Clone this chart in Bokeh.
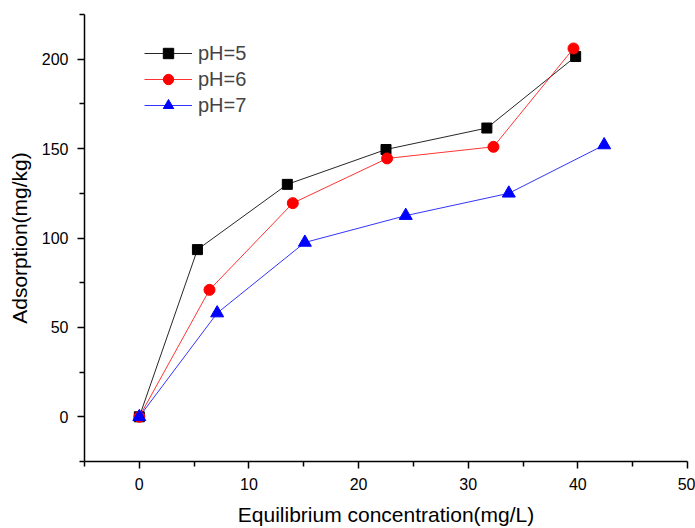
from bokeh.plotting import figure
from bokeh.models import FixedTicker, Range1d, Legend, LegendItem
from bokeh.embed import file_html
from bokeh.resources import INLINE

x_ph5 = [0, 5.3, 13.5, 22.5, 31.7, 39.8]
y_ph5 = [0, 93.5, 130, 149.5, 161.5, 201.5]
x_ph6 = [0, 6.4, 14.0, 22.6, 32.3, 39.6]
y_ph6 = [0, 71, 119.5, 144.5, 151, 206]
x_ph7 = [0, 7.1, 15.1, 24.3, 33.7, 42.4]
y_ph7 = [0, 58, 97.5, 112.5, 125, 152]

x_major = [0, 10, 20, 30, 40, 50]
x_minor = [-5, 5, 15, 25, 35, 45]
y_major = [0, 50, 100, 150, 200]
y_minor = [-25, 25, 75, 125, 175, 225]

FONT = "Liberation Sans"

p = figure(width=695, height=528, output_backend="svg", toolbar_location=None,
           x_range=Range1d(-5, 50), y_range=Range1d(-25, 225),
           min_border_left=84, min_border_right=8, min_border_top=14, min_border_bottom=65)
p.outline_line_color = None
p.grid.visible = False

l5 = p.line(x_ph5, y_ph5, line_color="black", line_width=1, line_alpha=0.85)
m5 = p.scatter(x_ph5, y_ph5, marker="square", size=10, fill_color="black", line_color="black")
l6 = p.line(x_ph6, y_ph6, line_color="red", line_width=1, line_alpha=0.8)
m6 = p.scatter(x_ph6, y_ph6, marker="circle", size=11, fill_color="red", line_color="red")
l7 = p.line(x_ph7, y_ph7, line_color="blue", line_width=1, line_alpha=0.8)
m7 = p.scatter(x_ph7, y_ph7, marker="triangle", size=13, fill_color="blue", line_color="blue")

for ax in (p.xaxis[0], p.yaxis[0]):
    ax.axis_line_width = 1.5
    ax.major_tick_line_width = 1.5
    ax.minor_tick_line_width = 1.5
    ax.major_tick_out = 7
    ax.major_tick_in = 0
    ax.minor_tick_out = 5
    ax.minor_tick_in = 0
    ax.major_label_text_font = FONT
    ax.major_label_text_font_size = "16px"
    ax.major_label_text_color = "black"
    ax.axis_label_text_font = FONT
    ax.axis_label_text_font_size = "21px"
    ax.axis_label_text_font_style = "normal"
    ax.axis_label_text_color = "black"

p.xaxis[0].ticker = FixedTicker(ticks=x_major, minor_ticks=x_minor)
p.yaxis[0].ticker = FixedTicker(ticks=y_major, minor_ticks=y_minor)
p.xaxis[0].axis_label = "Equilibrium concentration(mg/L)"
p.yaxis[0].axis_label = "Adsorption(mg/kg)"
p.xaxis[0].major_label_standoff = 9
p.yaxis[0].major_label_standoff = 9
p.xaxis[0].axis_label_standoff = 10
p.yaxis[0].axis_label_standoff = 8

legend = Legend(items=[
    LegendItem(label="pH=5", renderers=[l5, m5]),
    LegendItem(label="pH=6", renderers=[l6, m6]),
    LegendItem(label="pH=7", renderers=[l7, m7]),
], location=(60, 343))
legend.border_line_color = None
legend.background_fill_alpha = 0
legend.padding = 0
legend.margin = 0
legend.spacing = 0
legend.glyph_width = 48
legend.glyph_height = 26
legend.label_height = 26
legend.label_standoff = 6
legend.label_text_font = FONT
legend.label_text_font_size = "20px"
p.add_layout(legend)

open("out.html", "w").write(file_html(p, INLINE))
